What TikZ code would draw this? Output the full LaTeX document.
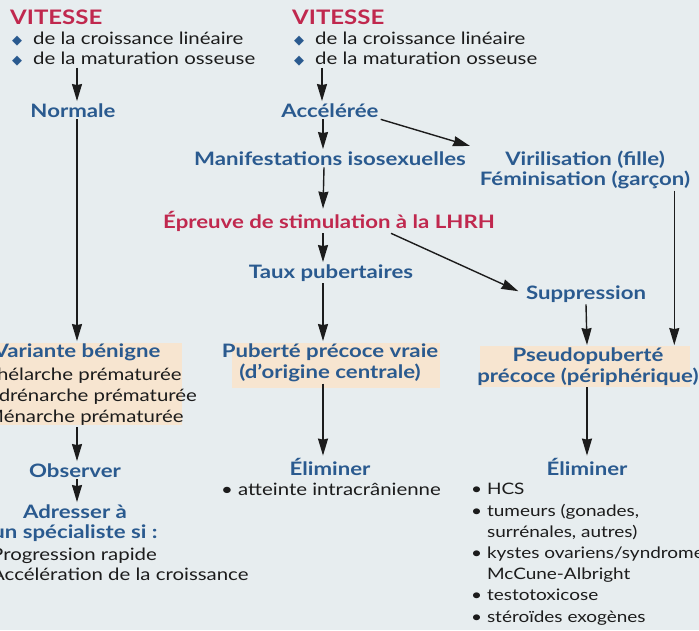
\documentclass[tikz,border=0pt]{standalone}
\usepackage{fontspec}
\setmainfont{Lato}[FakeStretch=1.2]
\newfontfamily\dingfont{DejaVu Sans}
\usetikzlibrary{arrows.meta}
\definecolor{vred}{RGB}{192,40,78}
\definecolor{vblue}{RGB}{42,90,143}
\definecolor{ink}{RGB}{28,28,28}
\definecolor{peach}{RGB}{247,229,208}
\definecolor{paper}{RGB}{231,237,239}
\newcommand\losange{{\dingfont\fontsize{13}{13}\selectfont\textcolor{vblue}{◆}}\hspace{11pt}}
\begin{document}
\begin{tikzpicture}[x=1pt,y=-1pt,
  title/.style={font=\bfseries\fontsize{20}{22}\selectfont,text=vred,inner sep=2pt},
  head/.style={font=\bfseries\fontsize{18.5}{21}\selectfont,text=vblue,inner sep=2pt,align=center},
  alert/.style={font=\bfseries\fontsize{18.5}{21}\selectfont,text=vred,inner sep=2pt},
  txt/.style={font=\fontsize{17}{21}\selectfont,text=ink,inner sep=2pt,align=left},
  hl/.style={fill=peach},
  arr/.style={draw=ink,line width=1.4pt,-{Stealth[length=17pt,width=10pt,inset=1pt]}}]

\useasboundingbox (0,0) rectangle (699,630);
\clip (0,0) rectangle (699,630);
\fill[paper] (0,0) rectangle (699,630);
\fill[hl] (-20,343) rectangle (182,425);
\fill[hl] (232,343) rectangle (440,388);
\fill[hl] (480,346) rectangle (690,387);

\node[title,anchor=base west](1) at (8,24){VITESSE};
\node[txt,anchor=base west](2) at (10,64){\losange de la croissance linéaire\\[-1pt]\losange de la maturation osseuse};
\node[head,anchor=base](3) at (73,117){Normale};
\node[head,anchor=base](4) at (77,357){Variante bénigne};
\node[txt,anchor=base west](5) at (-17,422){Thélarche prématurée\\Adrénarche prématurée\\Ménarche prématurée};
\node[head,anchor=base](6) at (75,477){Observer};
\node[head,anchor=base](7) at (75,538){Adresser à\\[-1pt]un spécialiste si :};
\node[txt,anchor=base west](8) at (-11,580){Progression rapide\\[-1pt]Accélération de la croissance};

\node[title,anchor=base west](9) at (290,24){VITESSE};
\node[txt,anchor=base west](10) at (292,64){\losange de la croissance linéaire\\[-1pt]\losange de la maturation osseuse};
\node[head,anchor=base](11) at (330,117){Accélérée};
\node[head,anchor=base](12) at (330,165){Manifestations isosexuelles};
\node[alert,anchor=base](13) at (329,228){Épreuve de stimulation à la LHRH};
\node[head,anchor=base](14) at (331,278){Taux pubertaires};
\node[head,anchor=base](15) at (330,378){Puberté précoce vraie\\(d’origine centrale)};
\node[head,anchor=base](16) at (330,475){Éliminer};
\node[txt,anchor=base](17) at (331,495){• atteinte intracrânienne};

\node[head,anchor=base](18) at (585,185){Virilisation (fille)\\[-1pt]Féminisation (garçon)};
\node[head,anchor=base](19) at (586,299){Suppression};
\node[head,anchor=base](20) at (588,382){Pseudopuberté\\précoce (périphérique)};
\node[head,anchor=base](21) at (587,475){Éliminer};
\node[txt,anchor=base west,font=\fontsize{15.8}{21.2}\selectfont](22) at (469,622){• HCS\\• tumeurs (gonades,\\\phantom{• }surrénales, autres)\\• kystes ovariens/syndrome\\\phantom{• }McCune-Albright\\• testotoxicose\\• stéroïdes exogènes};

\path (2.south -| 4.north) edge[arr] ([xshift=4pt]3.north);
\path ([xshift=4pt]3.south) edge[arr] (4.north);
\path (5.south -| 4.south) edge[arr] ([xshift=2pt]6.north);
\path ([xshift=2pt]6.south) edge[arr] ([xshift=2pt]7.north);

\path ([xshift=-8pt]11.north |- 10.south) edge[arr] ([xshift=-8pt]11.north);
\path ([xshift=-7pt]11.south) edge[arr] ([xshift=-7pt]12.north);
\path (11.south east) edge[arr,shorten >=8pt] (18.north west);
\path ([xshift=-6pt]12.south) edge[arr] ([xshift=-6pt]13.north);
\path ([xshift=-6pt]13.south) edge[arr] ([xshift=-8pt]14.north);
\path ([xshift=62pt]13.south) edge[arr,shorten >=6pt] (19.west);
\path ([xshift=-8pt]14.south) edge[arr] ([xshift=-7pt]15.north);
\path ([xshift=-7pt]15.south) edge[arr] ([xshift=-7pt]16.north);

\path ([xshift=-18pt]18.south east) edge[arr] ([xshift=-18pt]18.south east |- 20.north);
\path (19.south) edge[arr] ([xshift=-1pt]20.north);
\path ([xshift=-1pt]20.south) edge[arr] (21.north);
\end{tikzpicture}
\end{document}
